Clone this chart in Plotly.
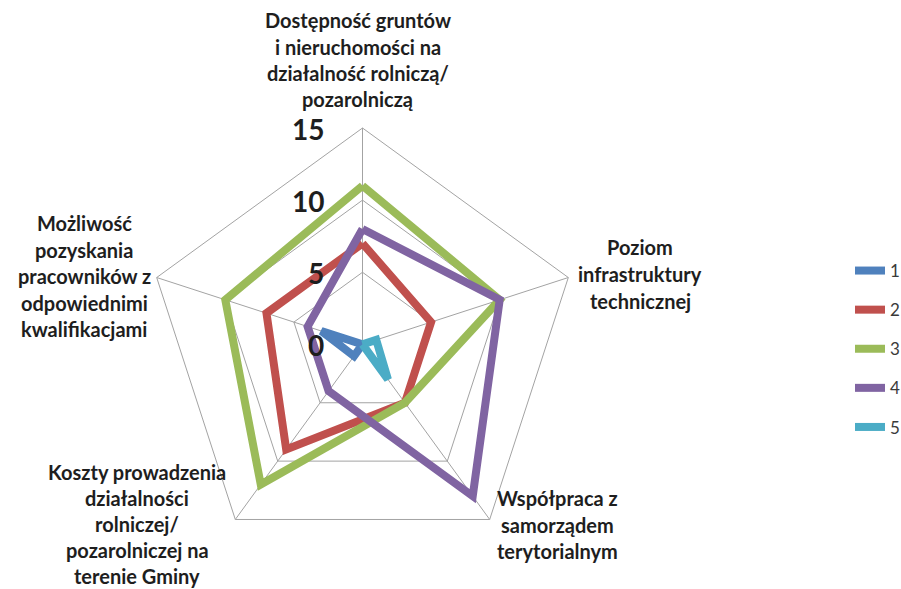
import plotly.graph_objects as go

# Survey criteria (clockwise from the top) and the scores of each series
categories = [
    "Dostępność gruntów<br>i nieruchomości na<br>działalność rolniczą/<br>pozarolniczą",
    "Poziom<br>infrastruktury<br>technicznej",
    "Współpraca z<br>samorządem<br>terytorialnym",
    "Koszty prowadzenia<br>działalności<br>rolniczej/<br>pozarolniczej na<br>terenie Gminy",
    "Możliwość<br>pozyskania<br>pracowników z<br>odpowiednimi<br>kwalifikacjami",
]
series_names = ["1", "2", "3", "4", "5"]
series_1 = [0, 0, 0, 1, 3]
series_2 = [7, 5, 5, 9, 7]
series_3 = [11, 10, 5, 12, 10]
series_4 = [8, 10, 13, 4, 4]
series_5 = [0, 1, 3, 0, 0]
radial_ticks = [0, 5, 10, 15]
radial_max = 15

series_values = [series_1, series_2, series_3, series_4, series_5]
colors = ["#4F81BD", "#C0504D", "#9BBB59", "#8064A2", "#4BACC6"]

W, H = 901, 589
CX, CY, R = 362.5, 344.4, 216.4  # polar centre and outer radius in pixels
GRID = "#A3A3A3"
TEXT = "#1E1E1E"

fig = go.Figure()
for name, vals, col in zip(series_names, series_values, colors):
    fig.add_trace(go.Scatterpolar(
        r=vals + vals[:1],
        theta=categories + categories[:1],
        mode="lines",
        name=name,
        legendgroup=name,
        line=dict(color=col, width=8),
        hoverinfo="skip",
    ))

annotations = []

# Category labels, one annotation per text line
label_pos = [  # (centre x, first line y, line gap) in pixels
    (358, 20, 26.5),
    (640, 247, 27),
    (557, 498, 26.5),
    (137, 472, 26),
    (84, 223, 26.5),
]
for cat, (lx, ly, gap) in zip(categories, label_pos):
    for i, part in enumerate(cat.split("<br>")):
        annotations.append(dict(
            text=part, x=lx / W, y=1 - (ly + i * gap) / H,
            xref="paper", yref="paper", xanchor="center", yanchor="middle",
            showarrow=False,
            font=dict(family="Lato", size=20, color=TEXT, weight="bold"),
        ))

# Radial scale labels, set upright beside the vertical spoke
for v in radial_ticks:
    py = CY - v / radial_max * R
    annotations.append(dict(
        text=str(v), x=(CX - 37) / W, y=1 - (py + 1) / H,
        xref="paper", yref="paper", xanchor="right", yanchor="middle",
        showarrow=False,
        font=dict(family="Lato", size=28, color=TEXT, weight="bold"),
    ))

fig.update_layout(
    width=W, height=H,
    margin=dict(l=0, r=0, t=0, b=0, autoexpand=False),
    paper_bgcolor="white",
    polar=dict(
        domain=dict(x=[(CX - R) / W, (CX + R) / W],
                    y=[(H - CY - R) / H, (H - CY + R) / H]),
        gridshape="linear",
        bgcolor="white",
        radialaxis=dict(
            range=[0, radial_max], tickvals=radial_ticks,
            angle=90, showline=False, showticklabels=False, ticks="",
            gridcolor=GRID, gridwidth=1,
        ),
        angularaxis=dict(
            direction="clockwise", rotation=90,
            showticklabels=False, ticks="",
            gridcolor=GRID, gridwidth=1,
            showline=True, linecolor=GRID, linewidth=1,
        ),
    ),
    showlegend=True,
    legend=dict(
        x=850 / W, y=1 - 253 / H, xanchor="left", yanchor="top",
        tracegroupgap=14,
        font=dict(family="Lato", size=17, color="#3A3A3A"),
        bgcolor="rgba(0,0,0,0)",
    ),
    annotations=annotations,
)

fig.write_html("out.html")
